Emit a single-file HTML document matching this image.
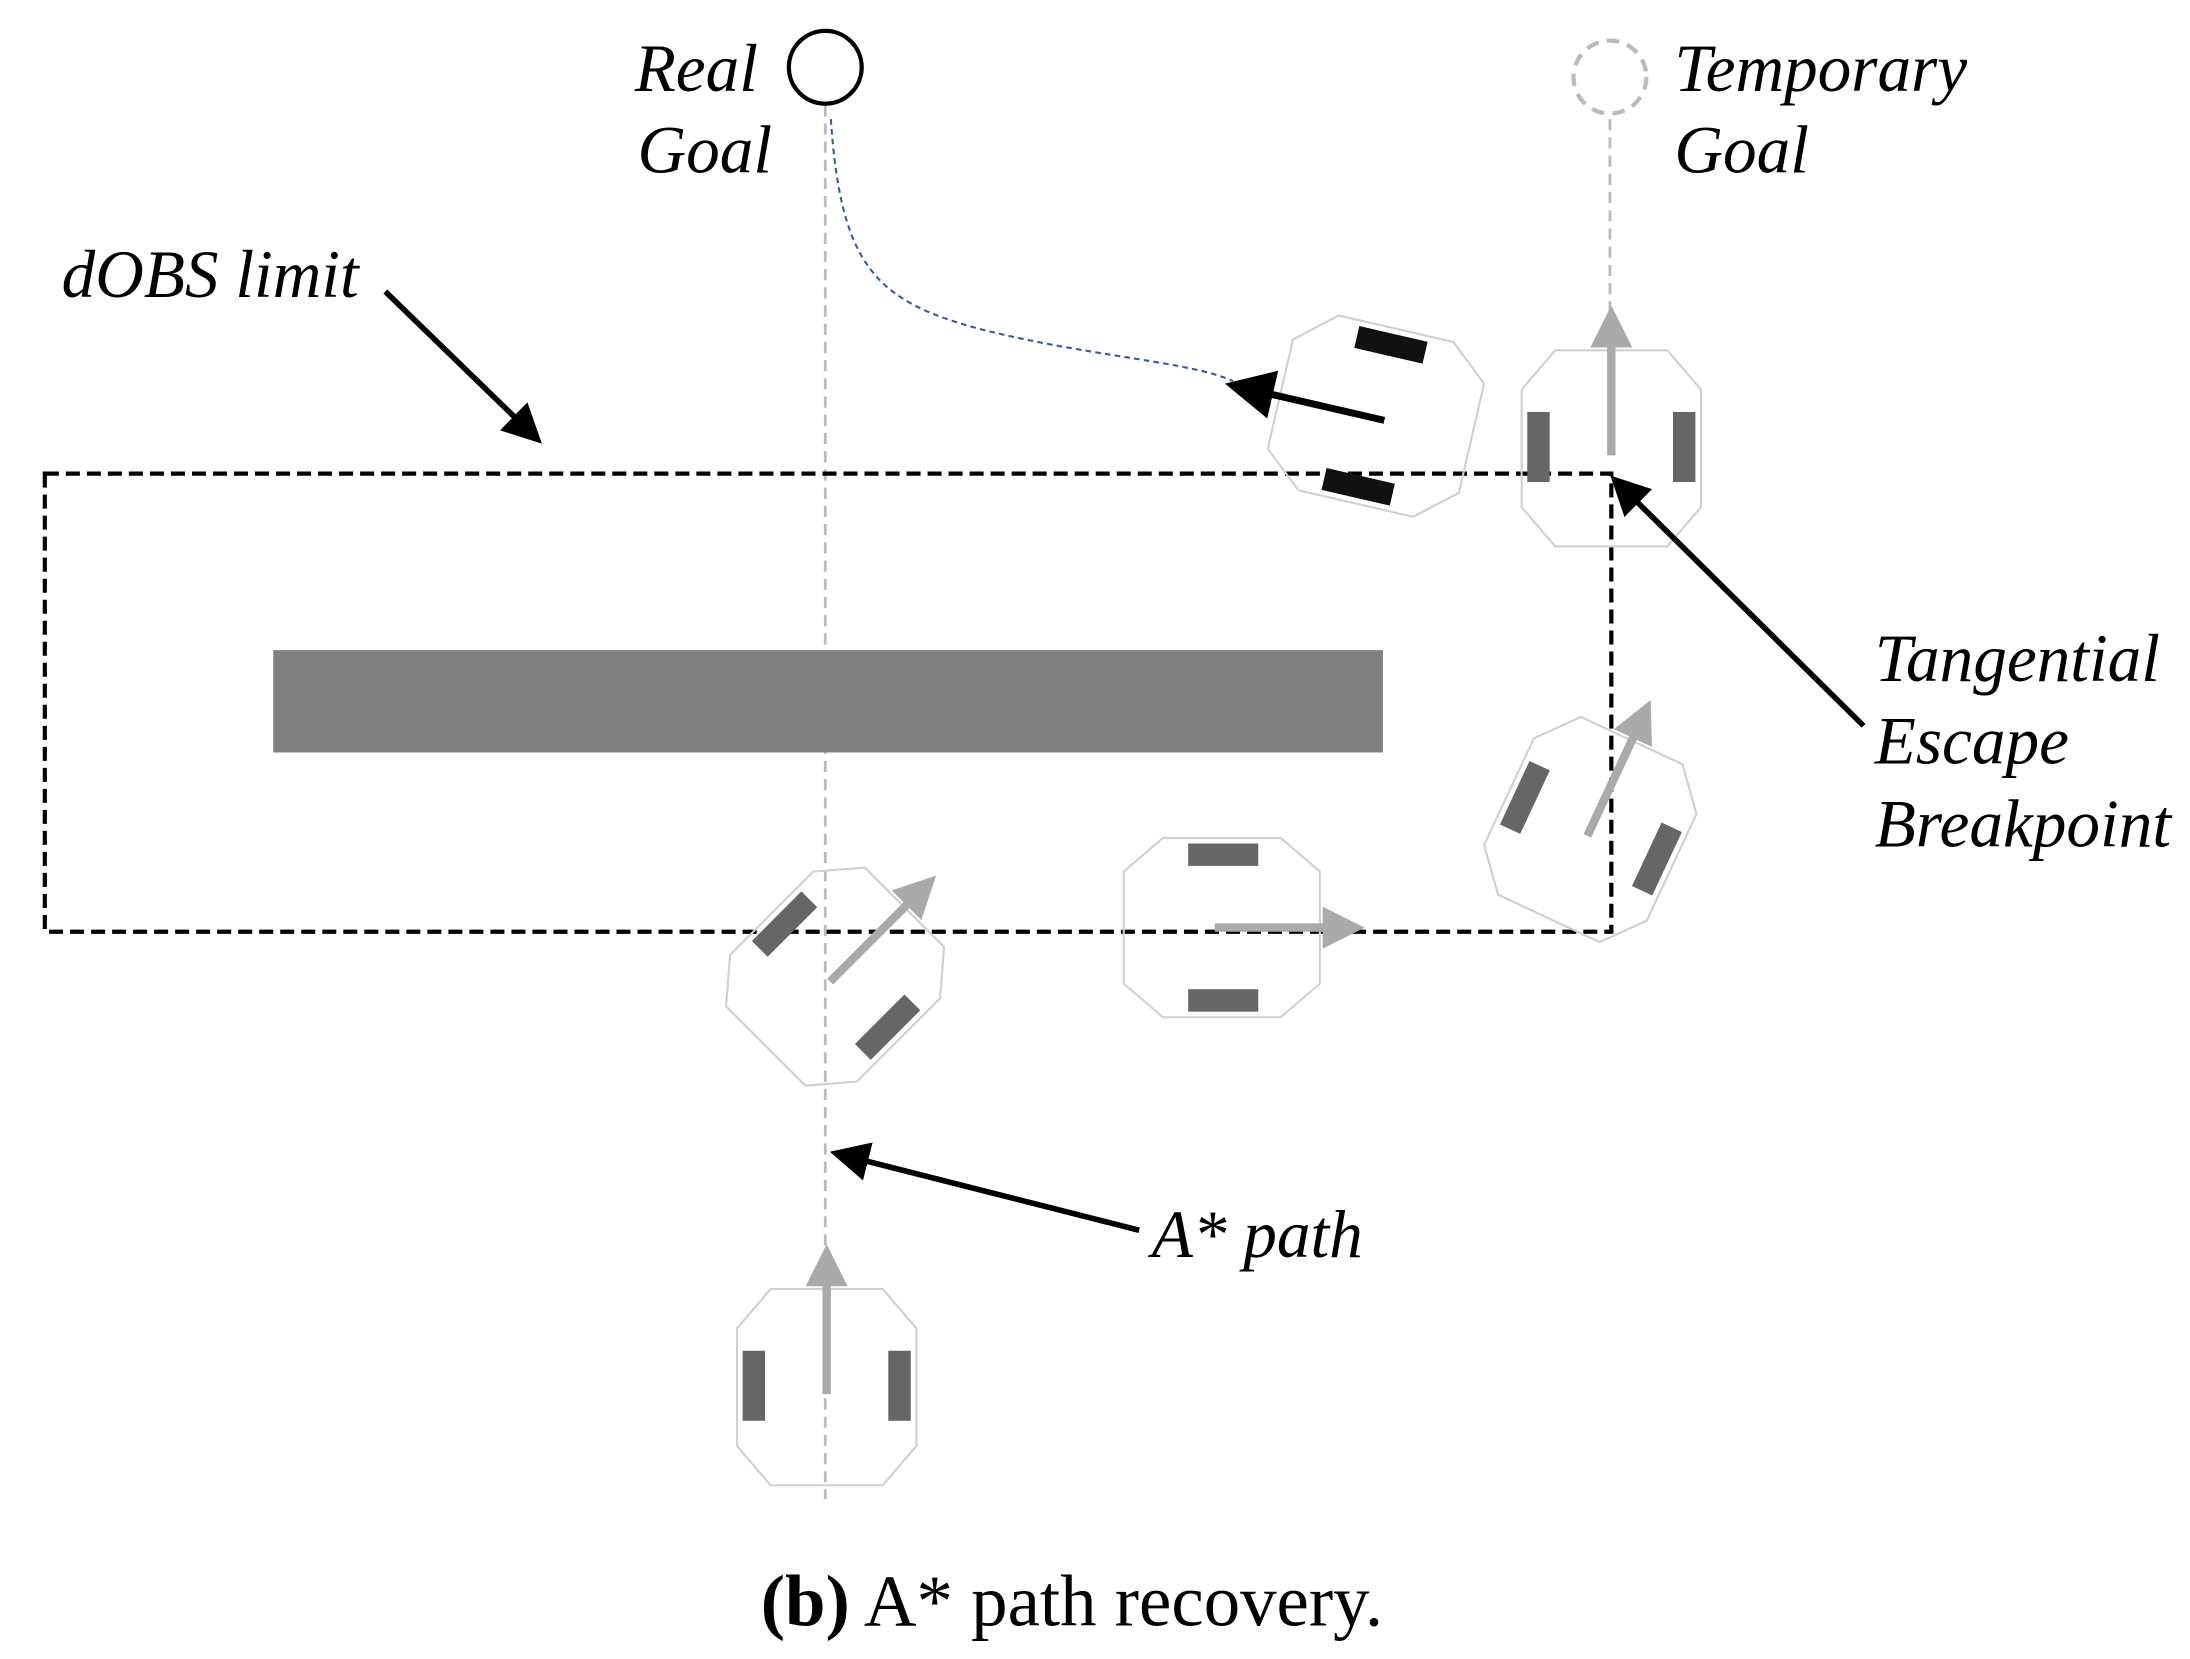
<!DOCTYPE html>
<html><head><meta charset="utf-8"><style>
html,body{margin:0;padding:0;background:#fff;}
svg{display:block;}
text{font-family:"Liberation Serif",serif;}
</style></head><body>
<svg width="2190" height="1659" viewBox="0 0 1563 1184" xmlns="http://www.w3.org/2000/svg">
<defs>
<marker id="ah" markerWidth="7" markerHeight="7" refX="5" refY="3.5" orient="auto" markerUnits="strokeWidth">
<path d="M0,0 L7,3.5 L0,7 z" fill="#000"/></marker>
<marker id="gh" markerWidth="5" markerHeight="5" refX="4" refY="2.5" orient="auto" markerUnits="strokeWidth">
<path d="M0,0 L5,2.5 L0,5 z" fill="#aaa"/></marker>
<g id="body">
<polygon points="-40,-70 40,-70 64,-42 64,42 40,70 -40,70 -64,42 -64,-42" fill="none" stroke="#d0d0d0" stroke-width="1.5"/>
</g>
<g id="robot">
<use href="#body"/>
<rect x="-60" y="-26" width="16" height="50" fill="#666"/>
<rect x="44" y="-26" width="16" height="50" fill="#666"/>
<line x1="0" y1="5" x2="0" y2="-96" stroke="#aaa" stroke-width="6" marker-end="url(#gh)"/>
</g>
</defs>
<rect width="1563" height="1184" fill="#fff"/>
<line x1="589" y1="75" x2="589" y2="1070" stroke="#bbb" stroke-width="2" stroke-dasharray="8,5"/>
<line x1="1149" y1="85" x2="1149" y2="230" stroke="#bbb" stroke-width="2" stroke-dasharray="8,5"/>
<rect x="195" y="464" width="792" height="73" fill="#808080"/>
<rect x="32" y="338" width="1118" height="327" fill="none" stroke="#000" stroke-width="3" stroke-dasharray="10,5"/>
<circle cx="589" cy="48" r="26" fill="none" stroke="#000" stroke-width="3"/>
<circle cx="1149" cy="55" r="26" fill="none" stroke="#bbb" stroke-width="3" stroke-dasharray="9,6"/>
<path d="M593,85 C600,190 625,215 700,235 C780,255 850,258 880,272" fill="none" stroke="#3a5a9a" stroke-width="1.5" stroke-dasharray="4,3"/>
<use href="#robot" transform="translate(590,990)"/>
<use href="#robot" transform="translate(1150,320)"/>
<use href="#robot" transform="translate(872,662) rotate(90)"/>
<use href="#robot" transform="translate(1135,592) rotate(25)"/>
<use href="#robot" transform="translate(596,697) rotate(45)"/>
<g transform="translate(982,297) rotate(-77)">
<use href="#body"/>
<rect x="-60" y="-26" width="16" height="50" fill="#111"/>
<rect x="44" y="-26" width="16" height="50" fill="#111"/>
</g>
<line x1="988" y1="300" x2="884" y2="276" stroke="#000" stroke-width="5" marker-end="url(#ah)"/>
<line x1="275" y1="208" x2="381" y2="311" stroke="#000" stroke-width="4" marker-end="url(#ah)"/>
<line x1="1330" y1="518" x2="1155" y2="345" stroke="#000" stroke-width="4" marker-end="url(#ah)"/>
<line x1="813" y1="878" x2="600" y2="824" stroke="#000" stroke-width="4" marker-end="url(#ah)"/>
<g font-style="italic" font-size="48" fill="#000">
<text x="453" y="65">Real</text>
<text x="455" y="123">Goal</text>
<text x="1195" y="65">Temporary</text>
<text x="1195" y="123">Goal</text>
<text x="44" y="212">dOBS limit</text>
<text x="1338" y="486">Tangential</text>
<text x="1338" y="545">Escape</text>
<text x="1338" y="604">Breakpoint</text>
<text x="822" y="897">A* path</text>
</g>
<text x="765" y="1160" font-size="52" text-anchor="middle" fill="#000"><tspan font-weight="bold">(b)</tspan> A* path recovery.</text>
</svg>
</body></html>
